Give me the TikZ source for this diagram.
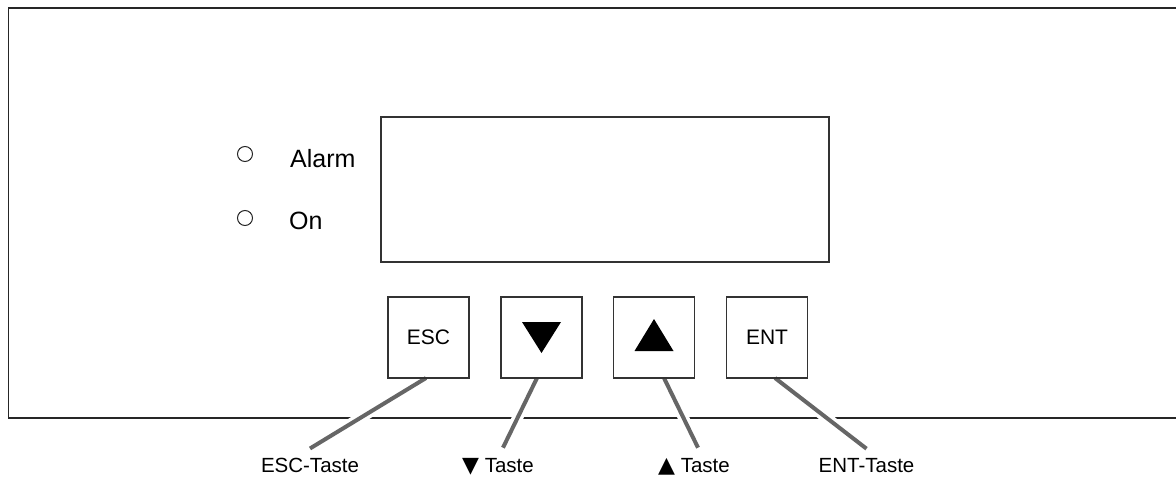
\documentclass[tikz,border=0pt]{standalone}
\usepackage{fontspec}
\setmainfont{Liberation Sans}
\newfontfamily\symfont{DejaVu Sans}
\usetikzlibrary{calc}
\begin{document}
\begin{tikzpicture}[x=1pt,y=-1pt,
  frame/.style={draw=black!85, line width=1.4pt},
  display/.style={draw=black!80, line width=1.2pt, inner sep=0pt},
  key/.style={draw=black!80, line width=1.1pt, minimum width=81pt, minimum height=81pt,
              inner sep=0pt, font=\fontsize{21}{21}\selectfont},
  led/.style={circle, draw=black!85, line width=1pt, minimum size=15pt, inner sep=0pt},
  ledtext/.style={anchor=base west, inner sep=0pt, font=\fontsize{25}{25}\selectfont},
  caption/.style={anchor=base, inner sep=0pt, font=\fontsize{20.5}{20.5}\selectfont},
  leader/.style={draw=black!60, line width=4pt},
  halo/.style={draw=white, line width=11pt},
  arrowsym/.style={fill=black},
]
\useasboundingbox (0,0) rectangle (1176,477);

% housing outline (open to the right)
\draw[frame] (1176,8) -- (8.5,8) -- (8.5,418) -- (1176,418);

% display window
\node[display, minimum width=448pt, minimum height=145pt] (lcd) at (605,189.5) {};

% status LEDs
\node[led] (ledalarm) at (245,154) {};
\node[ledtext] (alarm) at (290,167) {Alarm};
\node[led] (ledon) at (245,218) {};
\node[ledtext] (on) at (289,229) {On};

% captions below the housing
\node[caption] (esclbl) at (310,472) {ESC-Taste};
\node[caption] (downlbl) at (498,472) {{\symfont\fontsize{22}{22}\selectfont ▼}\ Taste};
\node[caption] (uplbl) at (694,472) {{\symfont\fontsize{22}{22}\selectfont ▲}\ Taste};
\node[caption] (entlbl) at (866.5,472) {ENT-Taste};

% leader end points
\coordinate (escTop) at (426,378);
\coordinate (downTop) at (537,378);
\coordinate (upTop) at (664,378);
\coordinate (entTop) at (775,378);
\coordinate (escEnd) at ([yshift=9pt]esclbl.north);
\coordinate (downEnd) at ([xshift=5pt,yshift=10pt]downlbl.north);
\coordinate (upEnd) at ([xshift=4pt,yshift=10pt]uplbl.north);
\coordinate (entEnd) at ([yshift=9pt]entlbl.north);

% leaders with a white gap where they cross the housing edge
\foreach \a/\b in {escTop/escEnd, downTop/downEnd, upTop/upEnd, entTop/entEnd}{
  \path[halo] ($(\a)!0.42!(\b)$) -- ($(\a)!0.74!(\b)$);
  \draw[leader] (\a) -- (\b);
}

% keys
\node[key] (esc) at (428.5,337.5) {ESC};
\node[key] (down) at (541.5,337.5) {};
\node[key] (up) at (654,337.5) {};
\node[key] (ent) at (767,337.5) {ENT};

% arrow symbols on the keys
\fill[arrowsym] ($(down.center)+(-19.5,-15.5)$) -- ($(down.center)+(19.5,-15.5)$)
  -- ($(down.center)+(0,15.5)$) -- cycle;
\fill[arrowsym] ($(up.center)+(-19.5,13.5)$) -- ($(up.center)+(19.5,13.5)$)
  -- ($(up.center)+(0,-18.5)$) -- cycle;
\end{tikzpicture}
\end{document}
